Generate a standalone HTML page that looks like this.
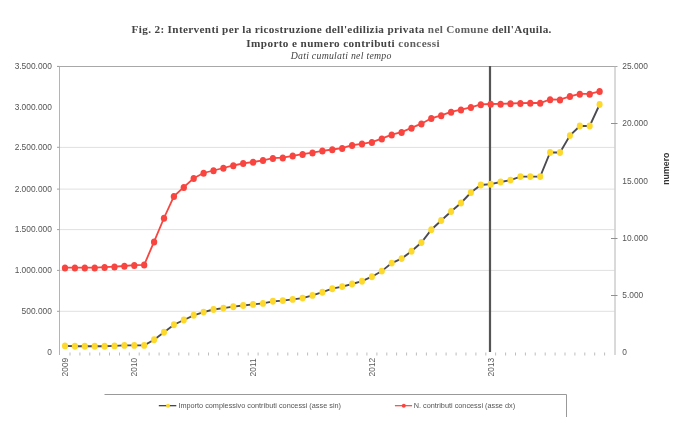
<!DOCTYPE html>
<html><head><meta charset="utf-8"><style>
html,body{margin:0;padding:0;background:#fff;}
body{width:689px;height:438px;overflow:hidden;}
svg{display:block;filter:blur(0.35px);}
</style></head><body>
<svg width="689" height="438" viewBox="0 0 689 438">
<rect width="689" height="438" fill="#fff"/>
<g font-family="'Liberation Serif', serif" fill="#444">
<text x="131.6" y="32.8" font-size="11.2" font-weight="bold" textLength="419.8" lengthAdjust="spacing">Fig. 2: Interventi per la ricostruzione dell'edilizia privata <tspan fill="#606060">nel Comune</tspan> dell'Aquila.</text>
<text x="246.3" y="46.6" font-size="11.2" font-weight="bold" textLength="193.3" lengthAdjust="spacing">Importo e numero contributi <tspan fill="#606060">concessi</tspan></text>
<text x="290.7" y="58.7" font-size="9.8" font-style="italic" textLength="100.7" lengthAdjust="spacing">Dati cumulati nel tempo</text>
</g>
<line x1="60" y1="147.4" x2="614.5" y2="147.4" stroke="#e0e0e0" stroke-width="1"/>
<line x1="60" y1="189.1" x2="614.5" y2="189.1" stroke="#e0e0e0" stroke-width="1"/>
<line x1="60" y1="229.6" x2="614.5" y2="229.6" stroke="#e0e0e0" stroke-width="1"/>
<line x1="60" y1="270.4" x2="614.5" y2="270.4" stroke="#e0e0e0" stroke-width="1"/>
<line x1="60" y1="311.3" x2="614.5" y2="311.3" stroke="#e0e0e0" stroke-width="1"/>
<line x1="57" y1="66.5" x2="617.5" y2="66.5" stroke="#a8a8a8" stroke-width="1"/>
<line x1="59.5" y1="66" x2="59.5" y2="355" stroke="#b4b4b4" stroke-width="1"/>
<line x1="615" y1="66" x2="615" y2="355" stroke="#b4b4b4" stroke-width="1"/>
<line x1="57" y1="66.4" x2="59.5" y2="66.4" stroke="#a0a0a0" stroke-width="1"/>
<line x1="57" y1="147.3" x2="59.5" y2="147.3" stroke="#a0a0a0" stroke-width="1"/>
<line x1="57" y1="189.1" x2="59.5" y2="189.1" stroke="#a0a0a0" stroke-width="1"/>
<line x1="57" y1="229.6" x2="59.5" y2="229.6" stroke="#a0a0a0" stroke-width="1"/>
<line x1="57" y1="270.4" x2="59.5" y2="270.4" stroke="#a0a0a0" stroke-width="1"/>
<line x1="57" y1="311.3" x2="59.5" y2="311.3" stroke="#a0a0a0" stroke-width="1"/>
<line x1="611" y1="123.5" x2="617.5" y2="123.5" stroke="#909090" stroke-width="1"/>
<line x1="611" y1="238.5" x2="617.5" y2="238.5" stroke="#909090" stroke-width="1"/>
<line x1="611" y1="295.5" x2="617.5" y2="295.5" stroke="#909090" stroke-width="1"/>
<line x1="70.0" y1="352.5" x2="70.0" y2="355.5" stroke="#bdbdbd" stroke-width="1"/>
<line x1="79.9" y1="352.5" x2="79.9" y2="355.5" stroke="#bdbdbd" stroke-width="1"/>
<line x1="89.8" y1="352.5" x2="89.8" y2="355.5" stroke="#bdbdbd" stroke-width="1"/>
<line x1="99.7" y1="352.5" x2="99.7" y2="355.5" stroke="#bdbdbd" stroke-width="1"/>
<line x1="109.5" y1="352.5" x2="109.5" y2="355.5" stroke="#bdbdbd" stroke-width="1"/>
<line x1="119.5" y1="352.5" x2="119.5" y2="355.5" stroke="#bdbdbd" stroke-width="1"/>
<line x1="129.3" y1="352.5" x2="129.3" y2="355.5" stroke="#bdbdbd" stroke-width="1"/>
<line x1="139.2" y1="352.5" x2="139.2" y2="355.5" stroke="#bdbdbd" stroke-width="1"/>
<line x1="149.1" y1="352.5" x2="149.1" y2="355.5" stroke="#bdbdbd" stroke-width="1"/>
<line x1="159.1" y1="352.5" x2="159.1" y2="355.5" stroke="#bdbdbd" stroke-width="1"/>
<line x1="168.9" y1="352.5" x2="168.9" y2="355.5" stroke="#bdbdbd" stroke-width="1"/>
<line x1="178.8" y1="352.5" x2="178.8" y2="355.5" stroke="#bdbdbd" stroke-width="1"/>
<line x1="188.8" y1="352.5" x2="188.8" y2="355.5" stroke="#bdbdbd" stroke-width="1"/>
<line x1="198.7" y1="352.5" x2="198.7" y2="355.5" stroke="#bdbdbd" stroke-width="1"/>
<line x1="208.5" y1="352.5" x2="208.5" y2="355.5" stroke="#bdbdbd" stroke-width="1"/>
<line x1="218.4" y1="352.5" x2="218.4" y2="355.5" stroke="#bdbdbd" stroke-width="1"/>
<line x1="228.3" y1="352.5" x2="228.3" y2="355.5" stroke="#bdbdbd" stroke-width="1"/>
<line x1="238.2" y1="352.5" x2="238.2" y2="355.5" stroke="#bdbdbd" stroke-width="1"/>
<line x1="248.2" y1="352.5" x2="248.2" y2="355.5" stroke="#bdbdbd" stroke-width="1"/>
<line x1="258.1" y1="352.5" x2="258.1" y2="355.5" stroke="#bdbdbd" stroke-width="1"/>
<line x1="267.9" y1="352.5" x2="267.9" y2="355.5" stroke="#bdbdbd" stroke-width="1"/>
<line x1="277.8" y1="352.5" x2="277.8" y2="355.5" stroke="#bdbdbd" stroke-width="1"/>
<line x1="287.8" y1="352.5" x2="287.8" y2="355.5" stroke="#bdbdbd" stroke-width="1"/>
<line x1="297.7" y1="352.5" x2="297.7" y2="355.5" stroke="#bdbdbd" stroke-width="1"/>
<line x1="307.6" y1="352.5" x2="307.6" y2="355.5" stroke="#bdbdbd" stroke-width="1"/>
<line x1="317.4" y1="352.5" x2="317.4" y2="355.5" stroke="#bdbdbd" stroke-width="1"/>
<line x1="327.4" y1="352.5" x2="327.4" y2="355.5" stroke="#bdbdbd" stroke-width="1"/>
<line x1="337.2" y1="352.5" x2="337.2" y2="355.5" stroke="#bdbdbd" stroke-width="1"/>
<line x1="347.1" y1="352.5" x2="347.1" y2="355.5" stroke="#bdbdbd" stroke-width="1"/>
<line x1="357.1" y1="352.5" x2="357.1" y2="355.5" stroke="#bdbdbd" stroke-width="1"/>
<line x1="366.9" y1="352.5" x2="366.9" y2="355.5" stroke="#bdbdbd" stroke-width="1"/>
<line x1="376.9" y1="352.5" x2="376.9" y2="355.5" stroke="#bdbdbd" stroke-width="1"/>
<line x1="386.8" y1="352.5" x2="386.8" y2="355.5" stroke="#bdbdbd" stroke-width="1"/>
<line x1="396.6" y1="352.5" x2="396.6" y2="355.5" stroke="#bdbdbd" stroke-width="1"/>
<line x1="406.6" y1="352.5" x2="406.6" y2="355.5" stroke="#bdbdbd" stroke-width="1"/>
<line x1="416.4" y1="352.5" x2="416.4" y2="355.5" stroke="#bdbdbd" stroke-width="1"/>
<line x1="426.4" y1="352.5" x2="426.4" y2="355.5" stroke="#bdbdbd" stroke-width="1"/>
<line x1="436.2" y1="352.5" x2="436.2" y2="355.5" stroke="#bdbdbd" stroke-width="1"/>
<line x1="446.1" y1="352.5" x2="446.1" y2="355.5" stroke="#bdbdbd" stroke-width="1"/>
<line x1="456.1" y1="352.5" x2="456.1" y2="355.5" stroke="#bdbdbd" stroke-width="1"/>
<line x1="465.9" y1="352.5" x2="465.9" y2="355.5" stroke="#bdbdbd" stroke-width="1"/>
<line x1="475.9" y1="352.5" x2="475.9" y2="355.5" stroke="#bdbdbd" stroke-width="1"/>
<line x1="485.8" y1="352.5" x2="485.8" y2="355.5" stroke="#bdbdbd" stroke-width="1"/>
<line x1="495.6" y1="352.5" x2="495.6" y2="355.5" stroke="#bdbdbd" stroke-width="1"/>
<line x1="505.6" y1="352.5" x2="505.6" y2="355.5" stroke="#bdbdbd" stroke-width="1"/>
<line x1="515.5" y1="352.5" x2="515.5" y2="355.5" stroke="#bdbdbd" stroke-width="1"/>
<line x1="525.4" y1="352.5" x2="525.4" y2="355.5" stroke="#bdbdbd" stroke-width="1"/>
<line x1="535.2" y1="352.5" x2="535.2" y2="355.5" stroke="#bdbdbd" stroke-width="1"/>
<line x1="545.2" y1="352.5" x2="545.2" y2="355.5" stroke="#bdbdbd" stroke-width="1"/>
<line x1="555.1" y1="352.5" x2="555.1" y2="355.5" stroke="#bdbdbd" stroke-width="1"/>
<line x1="565.0" y1="352.5" x2="565.0" y2="355.5" stroke="#bdbdbd" stroke-width="1"/>
<line x1="574.9" y1="352.5" x2="574.9" y2="355.5" stroke="#bdbdbd" stroke-width="1"/>
<line x1="584.8" y1="352.5" x2="584.8" y2="355.5" stroke="#bdbdbd" stroke-width="1"/>
<line x1="594.7" y1="352.5" x2="594.7" y2="355.5" stroke="#bdbdbd" stroke-width="1"/>
<line x1="604.6" y1="352.5" x2="604.6" y2="355.5" stroke="#bdbdbd" stroke-width="1"/>
<g font-family="'Liberation Sans', sans-serif" font-size="8.4" fill="#555">
<text x="51.9" y="69.2" text-anchor="end">3.500.000</text>
<text x="51.9" y="110.1" text-anchor="end">3.000.000</text>
<text x="51.9" y="150.1" text-anchor="end">2.500.000</text>
<text x="51.9" y="191.9" text-anchor="end">2.000.000</text>
<text x="51.9" y="232.4" text-anchor="end">1.500.000</text>
<text x="51.9" y="273.2" text-anchor="end">1.000.000</text>
<text x="51.9" y="314.1" text-anchor="end">500.000</text>
<text x="51.9" y="355.1" text-anchor="end">0</text>
<text x="622.3" y="69.2">25.000</text>
<text x="622.3" y="126.4">20.000</text>
<text x="622.3" y="183.7">15.000</text>
<text x="622.3" y="240.8">10.000</text>
<text x="622.3" y="297.9">5.000</text>
<text x="622.3" y="355.1">0</text>
<text transform="translate(68.0,376.4) rotate(-90)" fill="#5a5a5a">2009</text>
<text transform="translate(137.3,376.4) rotate(-90)" fill="#5a5a5a">2010</text>
<text transform="translate(256.1,376.4) rotate(-90)" fill="#5a5a5a">2011</text>
<text transform="translate(374.9,376.4) rotate(-90)" fill="#5a5a5a">2012</text>
<text transform="translate(493.7,376.4) rotate(-90)" fill="#5a5a5a">2013</text>
</g>
<text transform="translate(669.4,168.7) rotate(-90)" text-anchor="middle" font-family="'Liberation Sans', sans-serif" font-size="8.8" font-weight="bold" fill="#333">numero</text>
<line x1="490" y1="66" x2="490" y2="352" stroke="#555" stroke-width="2.2"/>
<polyline points="65.0,345.9 74.9,346.2 84.8,346.2 94.7,346.2 104.6,346.2 114.5,345.9 124.4,345.4 134.3,345.4 144.2,345.4 154.1,339.7 164.0,332.3 173.9,324.7 183.8,320.0 193.7,315.3 203.6,312.1 213.5,309.5 223.4,308.1 233.3,306.7 243.2,305.5 253.1,304.4 263.0,303.4 272.9,301.3 282.8,300.6 292.7,299.4 302.6,298.1 312.5,295.4 322.4,292.2 332.3,288.7 342.2,286.6 352.1,284.0 362.0,281.2 371.9,276.7 381.8,271.1 391.7,263.1 401.6,258.6 411.5,251.3 421.4,242.5 431.3,229.7 441.2,220.5 451.1,211.5 461.0,203.0 470.9,192.5 480.8,185.0 490.7,184.2 500.6,182.0 510.5,180.1 520.4,176.6 530.3,176.6 540.2,176.6 550.1,152.5 560.0,152.5 569.9,135.6 579.8,126.0 589.7,126.0 599.6,104.5" fill="none" stroke="#4a4a50" stroke-width="1.85"/>
<ellipse cx="65.0" cy="345.9" rx="3.05" ry="3.45" fill="#fdd92e"/>
<ellipse cx="74.9" cy="346.2" rx="3.05" ry="3.45" fill="#fdd92e"/>
<ellipse cx="84.8" cy="346.2" rx="3.05" ry="3.45" fill="#fdd92e"/>
<ellipse cx="94.7" cy="346.2" rx="3.05" ry="3.45" fill="#fdd92e"/>
<ellipse cx="104.6" cy="346.2" rx="3.05" ry="3.45" fill="#fdd92e"/>
<ellipse cx="114.5" cy="345.9" rx="3.05" ry="3.45" fill="#fdd92e"/>
<ellipse cx="124.4" cy="345.4" rx="3.05" ry="3.45" fill="#fdd92e"/>
<ellipse cx="134.3" cy="345.4" rx="3.05" ry="3.45" fill="#fdd92e"/>
<ellipse cx="144.2" cy="345.4" rx="3.05" ry="3.45" fill="#fdd92e"/>
<ellipse cx="154.1" cy="339.7" rx="3.05" ry="3.45" fill="#fdd92e"/>
<ellipse cx="164.0" cy="332.3" rx="3.05" ry="3.45" fill="#fdd92e"/>
<ellipse cx="173.9" cy="324.7" rx="3.05" ry="3.45" fill="#fdd92e"/>
<ellipse cx="183.8" cy="320.0" rx="3.05" ry="3.45" fill="#fdd92e"/>
<ellipse cx="193.7" cy="315.3" rx="3.05" ry="3.45" fill="#fdd92e"/>
<ellipse cx="203.6" cy="312.1" rx="3.05" ry="3.45" fill="#fdd92e"/>
<ellipse cx="213.5" cy="309.5" rx="3.05" ry="3.45" fill="#fdd92e"/>
<ellipse cx="223.4" cy="308.1" rx="3.05" ry="3.45" fill="#fdd92e"/>
<ellipse cx="233.3" cy="306.7" rx="3.05" ry="3.45" fill="#fdd92e"/>
<ellipse cx="243.2" cy="305.5" rx="3.05" ry="3.45" fill="#fdd92e"/>
<ellipse cx="253.1" cy="304.4" rx="3.05" ry="3.45" fill="#fdd92e"/>
<ellipse cx="263.0" cy="303.4" rx="3.05" ry="3.45" fill="#fdd92e"/>
<ellipse cx="272.9" cy="301.3" rx="3.05" ry="3.45" fill="#fdd92e"/>
<ellipse cx="282.8" cy="300.6" rx="3.05" ry="3.45" fill="#fdd92e"/>
<ellipse cx="292.7" cy="299.4" rx="3.05" ry="3.45" fill="#fdd92e"/>
<ellipse cx="302.6" cy="298.1" rx="3.05" ry="3.45" fill="#fdd92e"/>
<ellipse cx="312.5" cy="295.4" rx="3.05" ry="3.45" fill="#fdd92e"/>
<ellipse cx="322.4" cy="292.2" rx="3.05" ry="3.45" fill="#fdd92e"/>
<ellipse cx="332.3" cy="288.7" rx="3.05" ry="3.45" fill="#fdd92e"/>
<ellipse cx="342.2" cy="286.6" rx="3.05" ry="3.45" fill="#fdd92e"/>
<ellipse cx="352.1" cy="284.0" rx="3.05" ry="3.45" fill="#fdd92e"/>
<ellipse cx="362.0" cy="281.2" rx="3.05" ry="3.45" fill="#fdd92e"/>
<ellipse cx="371.9" cy="276.7" rx="3.05" ry="3.45" fill="#fdd92e"/>
<ellipse cx="381.8" cy="271.1" rx="3.05" ry="3.45" fill="#fdd92e"/>
<ellipse cx="391.7" cy="263.1" rx="3.05" ry="3.45" fill="#fdd92e"/>
<ellipse cx="401.6" cy="258.6" rx="3.05" ry="3.45" fill="#fdd92e"/>
<ellipse cx="411.5" cy="251.3" rx="3.05" ry="3.45" fill="#fdd92e"/>
<ellipse cx="421.4" cy="242.5" rx="3.05" ry="3.45" fill="#fdd92e"/>
<ellipse cx="431.3" cy="229.7" rx="3.05" ry="3.45" fill="#fdd92e"/>
<ellipse cx="441.2" cy="220.5" rx="3.05" ry="3.45" fill="#fdd92e"/>
<ellipse cx="451.1" cy="211.5" rx="3.05" ry="3.45" fill="#fdd92e"/>
<ellipse cx="461.0" cy="203.0" rx="3.05" ry="3.45" fill="#fdd92e"/>
<ellipse cx="470.9" cy="192.5" rx="3.05" ry="3.45" fill="#fdd92e"/>
<ellipse cx="480.8" cy="185.0" rx="3.05" ry="3.45" fill="#fdd92e"/>
<ellipse cx="490.7" cy="184.2" rx="3.05" ry="3.45" fill="#fdd92e"/>
<ellipse cx="500.6" cy="182.0" rx="3.05" ry="3.45" fill="#fdd92e"/>
<ellipse cx="510.5" cy="180.1" rx="3.05" ry="3.45" fill="#fdd92e"/>
<ellipse cx="520.4" cy="176.6" rx="3.05" ry="3.45" fill="#fdd92e"/>
<ellipse cx="530.3" cy="176.6" rx="3.05" ry="3.45" fill="#fdd92e"/>
<ellipse cx="540.2" cy="176.6" rx="3.05" ry="3.45" fill="#fdd92e"/>
<ellipse cx="550.1" cy="152.5" rx="3.05" ry="3.45" fill="#fdd92e"/>
<ellipse cx="560.0" cy="152.5" rx="3.05" ry="3.45" fill="#fdd92e"/>
<ellipse cx="569.9" cy="135.6" rx="3.05" ry="3.45" fill="#fdd92e"/>
<ellipse cx="579.8" cy="126.0" rx="3.05" ry="3.45" fill="#fdd92e"/>
<ellipse cx="589.7" cy="126.0" rx="3.05" ry="3.45" fill="#fdd92e"/>
<ellipse cx="599.6" cy="104.5" rx="3.05" ry="3.45" fill="#fdd92e"/>
<polyline points="65.0,267.6 74.9,267.6 84.8,267.6 94.7,267.6 104.6,267.2 114.5,266.6 124.4,266.0 134.3,265.2 144.2,264.8 154.1,241.7 164.0,218.0 173.9,196.3 183.8,187.1 193.7,178.3 203.6,173.0 213.5,170.5 223.4,168.0 233.3,165.5 243.2,163.3 253.1,162.0 263.0,160.3 272.9,158.2 282.8,157.7 292.7,155.8 302.6,154.2 312.5,152.6 322.4,150.8 332.3,149.5 342.2,148.1 352.1,145.2 362.0,143.8 371.9,142.2 381.8,138.6 391.7,134.6 401.6,132.1 411.5,127.9 421.4,123.7 431.3,118.3 441.2,115.4 451.1,111.9 461.0,109.6 470.9,107.3 480.8,104.4 490.7,104.0 500.6,103.9 510.5,103.5 520.4,103.1 530.3,103.0 540.2,103.0 550.1,99.4 560.0,99.7 569.9,96.3 579.8,93.9 589.7,93.9 599.6,91.3" fill="none" stroke="#f9453f" stroke-width="1.8"/>
<ellipse cx="65.0" cy="267.9" rx="3.15" ry="3.5" fill="#f9453f"/>
<ellipse cx="74.9" cy="267.9" rx="3.15" ry="3.5" fill="#f9453f"/>
<ellipse cx="84.8" cy="267.9" rx="3.15" ry="3.5" fill="#f9453f"/>
<ellipse cx="94.7" cy="267.9" rx="3.15" ry="3.5" fill="#f9453f"/>
<ellipse cx="104.6" cy="267.5" rx="3.15" ry="3.5" fill="#f9453f"/>
<ellipse cx="114.5" cy="266.9" rx="3.15" ry="3.5" fill="#f9453f"/>
<ellipse cx="124.4" cy="266.3" rx="3.15" ry="3.5" fill="#f9453f"/>
<ellipse cx="134.3" cy="265.5" rx="3.15" ry="3.5" fill="#f9453f"/>
<ellipse cx="144.2" cy="265.1" rx="3.15" ry="3.5" fill="#f9453f"/>
<ellipse cx="154.1" cy="242.0" rx="3.15" ry="3.5" fill="#f9453f"/>
<ellipse cx="164.0" cy="218.3" rx="3.15" ry="3.5" fill="#f9453f"/>
<ellipse cx="173.9" cy="196.6" rx="3.15" ry="3.5" fill="#f9453f"/>
<ellipse cx="183.8" cy="187.4" rx="3.15" ry="3.5" fill="#f9453f"/>
<ellipse cx="193.7" cy="178.6" rx="3.15" ry="3.5" fill="#f9453f"/>
<ellipse cx="203.6" cy="173.3" rx="3.15" ry="3.5" fill="#f9453f"/>
<ellipse cx="213.5" cy="170.8" rx="3.15" ry="3.5" fill="#f9453f"/>
<ellipse cx="223.4" cy="168.3" rx="3.15" ry="3.5" fill="#f9453f"/>
<ellipse cx="233.3" cy="165.8" rx="3.15" ry="3.5" fill="#f9453f"/>
<ellipse cx="243.2" cy="163.6" rx="3.15" ry="3.5" fill="#f9453f"/>
<ellipse cx="253.1" cy="162.3" rx="3.15" ry="3.5" fill="#f9453f"/>
<ellipse cx="263.0" cy="160.6" rx="3.15" ry="3.5" fill="#f9453f"/>
<ellipse cx="272.9" cy="158.5" rx="3.15" ry="3.5" fill="#f9453f"/>
<ellipse cx="282.8" cy="158.0" rx="3.15" ry="3.5" fill="#f9453f"/>
<ellipse cx="292.7" cy="156.1" rx="3.15" ry="3.5" fill="#f9453f"/>
<ellipse cx="302.6" cy="154.5" rx="3.15" ry="3.5" fill="#f9453f"/>
<ellipse cx="312.5" cy="152.9" rx="3.15" ry="3.5" fill="#f9453f"/>
<ellipse cx="322.4" cy="151.1" rx="3.15" ry="3.5" fill="#f9453f"/>
<ellipse cx="332.3" cy="149.8" rx="3.15" ry="3.5" fill="#f9453f"/>
<ellipse cx="342.2" cy="148.4" rx="3.15" ry="3.5" fill="#f9453f"/>
<ellipse cx="352.1" cy="145.5" rx="3.15" ry="3.5" fill="#f9453f"/>
<ellipse cx="362.0" cy="144.1" rx="3.15" ry="3.5" fill="#f9453f"/>
<ellipse cx="371.9" cy="142.5" rx="3.15" ry="3.5" fill="#f9453f"/>
<ellipse cx="381.8" cy="138.9" rx="3.15" ry="3.5" fill="#f9453f"/>
<ellipse cx="391.7" cy="134.9" rx="3.15" ry="3.5" fill="#f9453f"/>
<ellipse cx="401.6" cy="132.4" rx="3.15" ry="3.5" fill="#f9453f"/>
<ellipse cx="411.5" cy="128.2" rx="3.15" ry="3.5" fill="#f9453f"/>
<ellipse cx="421.4" cy="124.0" rx="3.15" ry="3.5" fill="#f9453f"/>
<ellipse cx="431.3" cy="118.6" rx="3.15" ry="3.5" fill="#f9453f"/>
<ellipse cx="441.2" cy="115.7" rx="3.15" ry="3.5" fill="#f9453f"/>
<ellipse cx="451.1" cy="112.2" rx="3.15" ry="3.5" fill="#f9453f"/>
<ellipse cx="461.0" cy="109.9" rx="3.15" ry="3.5" fill="#f9453f"/>
<ellipse cx="470.9" cy="107.6" rx="3.15" ry="3.5" fill="#f9453f"/>
<ellipse cx="480.8" cy="104.7" rx="3.15" ry="3.5" fill="#f9453f"/>
<ellipse cx="490.7" cy="104.3" rx="3.15" ry="3.5" fill="#f9453f"/>
<ellipse cx="500.6" cy="104.2" rx="3.15" ry="3.5" fill="#f9453f"/>
<ellipse cx="510.5" cy="103.8" rx="3.15" ry="3.5" fill="#f9453f"/>
<ellipse cx="520.4" cy="103.4" rx="3.15" ry="3.5" fill="#f9453f"/>
<ellipse cx="530.3" cy="103.3" rx="3.15" ry="3.5" fill="#f9453f"/>
<ellipse cx="540.2" cy="103.3" rx="3.15" ry="3.5" fill="#f9453f"/>
<ellipse cx="550.1" cy="99.7" rx="3.15" ry="3.5" fill="#f9453f"/>
<ellipse cx="560.0" cy="100.0" rx="3.15" ry="3.5" fill="#f9453f"/>
<ellipse cx="569.9" cy="96.6" rx="3.15" ry="3.5" fill="#f9453f"/>
<ellipse cx="579.8" cy="94.2" rx="3.15" ry="3.5" fill="#f9453f"/>
<ellipse cx="589.7" cy="94.2" rx="3.15" ry="3.5" fill="#f9453f"/>
<ellipse cx="599.6" cy="91.6" rx="3.15" ry="3.5" fill="#f9453f"/>
<path d="M104.5 394.5 H566.5 V417" fill="none" stroke="#999" stroke-width="1"/>
<line x1="158.8" y1="405.7" x2="176.3" y2="405.7" stroke="#333" stroke-width="1.2"/>
<circle cx="168" cy="405.7" r="2" fill="#fdd92e"/>
<line x1="394.9" y1="405.7" x2="412.1" y2="405.7" stroke="#f9453f" stroke-width="1.2"/>
<circle cx="403.8" cy="405.7" r="2" fill="#f9453f"/>
<g font-family="'Liberation Sans', sans-serif" font-size="7.3" fill="#555">
<text x="178.4" y="408.3" textLength="162.6" lengthAdjust="spacingAndGlyphs">Importo complessivo contributi concessi (asse sin)</text>
<text x="413.7" y="408.3" textLength="101.4" lengthAdjust="spacingAndGlyphs">N. contributi concessi (asse dx)</text>
</g>
</svg>
</body></html>
